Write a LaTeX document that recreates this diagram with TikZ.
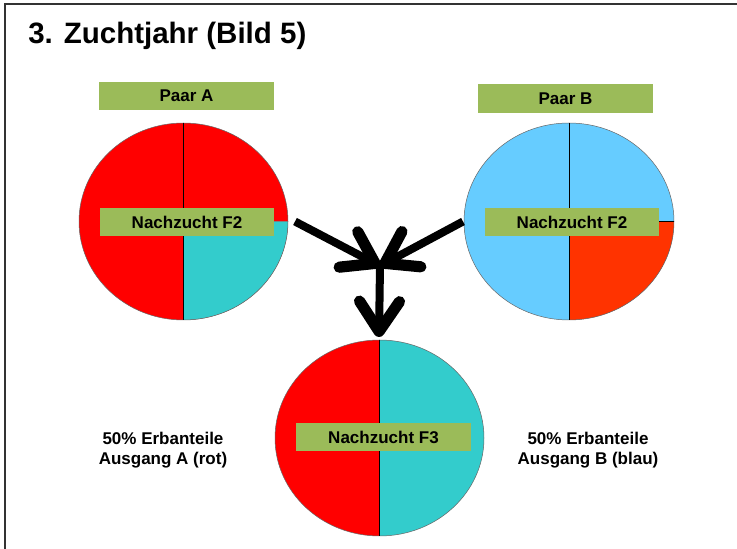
\documentclass[tikz,border=0pt]{standalone}
\usepackage{fontspec}
\setmainfont{Liberation Sans}
\usetikzlibrary{positioning, arrows.meta, calc}

\definecolor{rot}{HTML}{FF0000}
\definecolor{tuerkis}{HTML}{33CCCC}
\definecolor{hellblau}{HTML}{66CCFF}
\definecolor{orangerot}{HTML}{FF3300}
\definecolor{gruen}{HTML}{9BBB59}

\begin{document}
\begin{tikzpicture}[x=1pt, y=1pt, line width=0.6pt,
    tag/.style={fill=gruen, minimum width=175pt, minimum height=28pt, inner sep=0pt,
        font=\fontsize{17}{20}\selectfont\bfseries},
    pfeil/.style={line width=8pt, -{Straight Barb[length=30pt, width=40pt, line width=0pt 1.4, round]}},
    info/.style={align=center, inner sep=0pt, font=\fontsize{17}{20.5}\selectfont\bfseries}]
\useasboundingbox (0,0) rectangle (737,549);

% Rahmen
\draw[line width=1.6pt, black!80] (5,0) -- (5,545) -- (737,545);

% Titel
\node[anchor=base west, inner sep=0pt, font=\fontsize{29.5}{33}\selectfont\bfseries] (titel) at (28,505) {3. Zuchtjahr (Bild 5)};

% Paar A: 3/4 rot, 1/4 tuerkis
\begin{scope}[shift={(183.5,327.5)}]
    \fill[rot] (0,0) ellipse [x radius=104.5, y radius=98.5];
    \fill[tuerkis] (0,0) -- (104.5,0) arc [start angle=0, end angle=-90, x radius=104.5, y radius=98.5] -- cycle;
    \draw[line width=0.5pt, black!60] (0,0) ellipse [x radius=104.5, y radius=98.5];
    \draw[line width=0.5pt] (0,98.5) -- (0,-98.5);
    \coordinate (ausA) at (111.5,0);
\end{scope}

% Paar B: 3/4 blau, 1/4 orangerot
\begin{scope}[shift={(569,327.5)}]
    \fill[hellblau] (0,0) ellipse [x radius=105, y radius=98.5];
    \fill[orangerot] (0,0) -- (105,0) arc [start angle=0, end angle=-90, x radius=105, y radius=98.5] -- cycle;
    \draw[line width=0.5pt, black!60] (0,0) ellipse [x radius=105, y radius=98.5];
    \draw[line width=0.5pt] (0,98.5) -- (0,-98.5);
    \draw[line width=0.5pt] (0,0) -- (105,0);
    \coordinate (ausB) at (-106,0);
\end{scope}

% Nachzucht F3: halb rot, halb tuerkis
\begin{scope}[shift={(379.5,111)}]
    \fill[rot] (0,98) arc [start angle=90, end angle=270, x radius=104.5, y radius=98] -- cycle;
    \fill[tuerkis] (0,98) arc [start angle=90, end angle=-90, x radius=104.5, y radius=98] -- cycle;
    \draw[line width=0.5pt, black!60] (0,0) ellipse [x radius=104.5, y radius=98];
    \draw[line width=0.5pt] (0,98) -- (0,-98);
\end{scope}

% Beschriftungen
\node[tag] (paarA) at (186.5,453) {Paar A};
\node[tag, minimum height=29pt] (paarB) at (565.5,450.5) {Paar B};
\node[tag, minimum width=174pt] (f2A) at (187,327) {Nachzucht F2};
\node[tag, minimum width=174pt] (f2B) at (572,327) {Nachzucht F2};
\node[tag] (f3) at (383.5,112) {Nachzucht F3};

% Pfeile
\coordinate (knoten) at (380,283);
\coordinate (ziel) at (379,212);
\draw[pfeil] (ausA) -- (knoten);
\draw[pfeil] (ausB) -- (knoten);
\draw[pfeil] (knoten) -- (ziel);

% Erbanteile
\node[info] (anteilA) at (163,99) {50\% Erbanteile\\Ausgang A (rot)};
\node[info] (anteilB) at (588,99) {50\% Erbanteile\\Ausgang B (blau)};

\end{tikzpicture}
\end{document}
